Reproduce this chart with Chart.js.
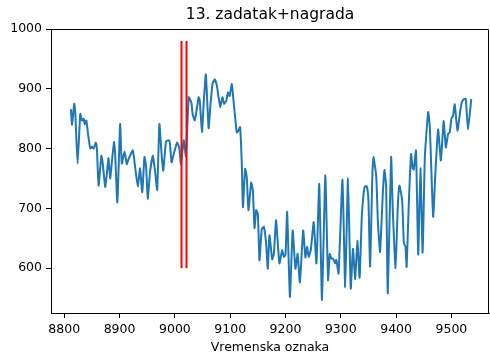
<!DOCTYPE html>
<html>
<head>
<meta charset="utf-8">
<script src="https://cdn.jsdelivr.net/npm/chart.js@4/dist/chart.umd.min.js"></script>
<style>
  html, body { margin: 0; padding: 0; background: #fff; }
  #wrap { width: 490px; height: 360px; }
</style>
</head>
<body>
<div id="wrap"><canvas id="c" width="490" height="360"></canvas></div>
<script>
// Time stamps and measured values of the series
const timestamps = [
  8812, 8814, 8818, 8820, 8824, 8829, 8832, 8835, 8837, 8840, 8843, 8847, 8850, 8853, 8857, 8859,
  8862, 8867, 8869, 8874, 8877, 8880, 8883, 8886, 8890, 8892, 8896, 8901, 8904, 8909, 8913, 8916,
  8919, 8924, 8928, 8933, 8937, 8941, 8945, 8948, 8951, 8955, 8960, 8964, 8968, 8972, 8976, 8979,
  8984, 8989, 8991, 8994, 8998, 9004, 9008, 9011, 9016, 9020, 9025, 9030, 9032, 9036, 9039, 9043,
  9045, 9049, 9052, 9056, 9061, 9064, 9068, 9072, 9076, 9079, 9082, 9086, 9089, 9093, 9096, 9099,
  9103, 9106, 9109, 9112, 9115, 9118, 9121, 9123, 9127, 9130, 9133, 9138, 9141, 9144, 9147, 9150,
  9153, 9157, 9161, 9165, 9168, 9171, 9176, 9179, 9183, 9189, 9194, 9197, 9200, 9203, 9208, 9213,
  9218, 9222, 9226, 9232, 9236, 9239, 9242, 9246, 9251, 9256, 9261, 9266, 9272, 9277, 9280, 9283,
  9286, 9290, 9292, 9296, 9303, 9308, 9313, 9318, 9322, 9326, 9330, 9334, 9338, 9343, 9347, 9350,
  9353, 9357, 9359, 9364, 9367, 9371, 9376, 9379, 9382, 9385, 9391, 9394, 9399, 9403, 9406, 9411,
  9414, 9417, 9419, 9423, 9427, 9430, 9432, 9436, 9440, 9444, 9448, 9452, 9458, 9461, 9467, 9471,
  9476, 9481, 9486, 9490, 9494, 9497, 9500, 9503, 9506, 9511, 9516, 9519, 9523, 9526, 9530, 9536
];
const values = [
  866, 840, 875, 858, 775, 858, 847, 850, 841, 847, 824, 800, 803, 800, 810, 800,
  738, 788, 780, 736, 758, 784, 750, 777, 811, 791, 710, 841, 775, 795, 774, 782,
  788, 797, 770, 737, 767, 727, 786, 769, 716, 760, 788, 763, 731, 841, 790, 763,
  812, 814, 809, 777, 791, 810, 801, 774, 814, 787, 886, 876, 858, 847, 863, 886,
  880, 828, 875, 924, 834, 869, 908, 916, 905, 886, 869, 886, 875, 880, 894, 888,
  908, 880, 852, 827, 830, 836, 774, 702, 766, 752, 697, 743, 730, 667, 697, 691,
  613, 665, 669, 641, 599, 655, 615, 624, 680, 608, 630, 619, 622, 694, 552, 663,
  599, 624, 576, 663, 618, 636, 619, 632, 677, 608, 741, 547, 755, 580, 624, 616,
  616, 608, 614, 591, 748, 568, 750, 566, 632, 582, 646, 584, 686, 736, 737, 713,
  603, 752, 786, 755, 680, 627, 725, 764, 736, 558, 786, 697, 600, 702, 738, 713,
  642, 636, 602, 708, 791, 767, 765, 797, 623, 767, 626, 786, 861, 836, 686, 758,
  832, 780, 846, 802, 825, 827, 850, 855, 874, 830, 863, 878, 883, 883, 832, 883
];

// Vertical markers (time stamps) and their vertical extent
const markerTimes = [9012, 9021];
const markerRange = [600, 980];

// Axis tick labels
const xTicks = [8800, 8900, 9000, 9100, 9200, 9300, 9400, 9500];
const yTicks = [600, 700, 800, 900, 1000];

const FONT = "'DejaVu Sans', sans-serif";

const series = timestamps.map((t, i) => ({ x: t, y: values[i] }));

const markerSets = markerTimes.map(t => ({
  type: 'line',
  data: [{ x: t, y: markerRange[0] }, { x: t, y: markerRange[1] }],
  borderColor: '#ff0000',
  borderWidth: 2,
  pointRadius: 0,
  tension: 0,
  order: 0
}));

// Closes the box around the plot (top and right spines)
const frame = {
  id: 'frame',
  afterDraw(chart) {
    const { ctx, chartArea: a } = chart;
    ctx.save();
    ctx.strokeStyle = '#000';
    ctx.lineWidth = 1;
    ctx.beginPath();
    ctx.moveTo(a.left, a.top + 0.5);
    ctx.lineTo(a.right - 0.5, a.top + 0.5);
    ctx.lineTo(a.right - 0.5, a.bottom);
    ctx.stroke();
    ctx.restore();
  }
};

new Chart(document.getElementById('c'), {
  type: 'line',
  data: {
    datasets: [
      {
        data: series,
        borderColor: '#1f77b4',
        borderWidth: 2,
        pointRadius: 0,
        tension: 0.15,
        order: 1
      },
      ...markerSets
    ]
  },
  options: {
    responsive: false,
    animation: false,
    layout: { padding: { left: 0, right: 1, top: 0, bottom: 0 } },
    plugins: {
      legend: { display: false },
      tooltip: { enabled: false },
      title: {
        display: true,
        text: '13. zadatak+nagrada',
        fullSize: false,
        color: '#000',
        font: { family: FONT, size: 15.5, weight: 'normal' },
        padding: { top: 5.5, bottom: 4.9 }
      }
    },
    scales: {
      x: {
        type: 'linear',
        min: 8776,
        max: 9568,
        afterFit(s) { s.height = 47; },
        afterBuildTicks(s) { s.ticks = xTicks.map(v => ({ value: v })); },
        grid: { display: true, drawOnChartArea: false, drawTicks: true, tickLength: 5, color: '#000' },
        border: { display: true, color: '#000', width: 1 },
        ticks: {
          color: '#000',
          padding: 4,
          maxRotation: 0,
          font: { family: FONT, size: 12.5 },
          callback: v => String(v)
        },
        title: {
          display: true,
          text: 'Vremenska oznaka',
          color: '#000',
          font: { family: FONT, size: 12.5 },
          padding: { top: 0, bottom: 5 }
        }
      },
      y: {
        type: 'linear',
        min: 525,
        max: 1000,
        afterFit(s) { s.width = 51; },
        afterBuildTicks(s) { s.ticks = yTicks.map(v => ({ value: v })); },
        grid: { display: true, drawOnChartArea: false, drawTicks: true, tickLength: 5, color: '#000' },
        border: { display: true, color: '#000', width: 1 },
        ticks: {
          color: '#000',
          padding: 4,
          font: { family: FONT, size: 12.5 },
          callback: v => String(v)
        }
      }
    }
  },
  plugins: [frame]
});
</script>
</body>
</html>
